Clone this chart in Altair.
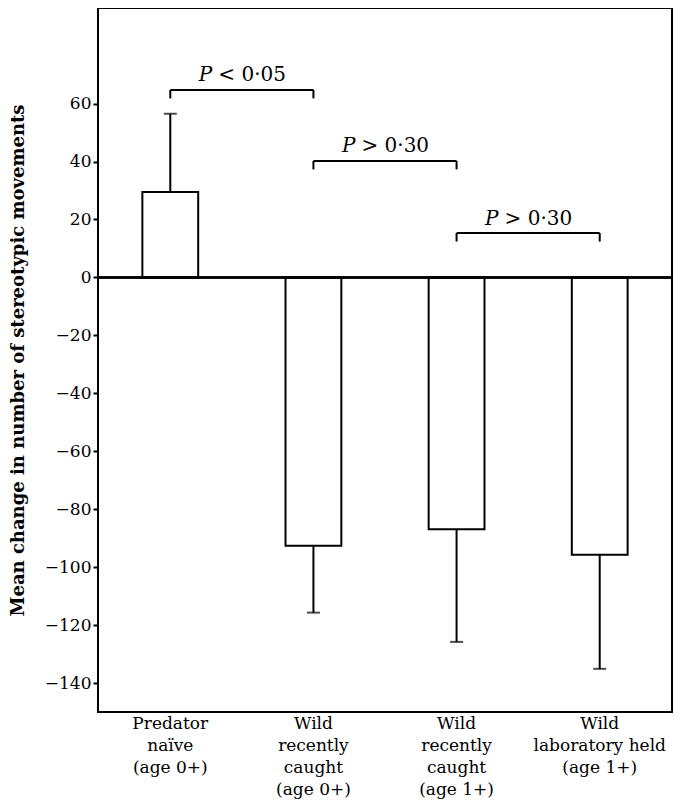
import altair as alt
import pandas as pd

# ---- data ----
categories = ["Predator|naïve|(age 0+)",
              "Wild|recently|caught|(age 0+)",
              "Wild|recently|caught|(age 1+)",
              "Wild|laboratory held|(age 1+)"]
means = [29.5, -92.6, -86.9, -95.7]
err_ends = [56.5, -115.7, -125.8, -135.1]

bracket_left = [categories[0], categories[1], categories[2]]
bracket_right = [categories[1], categories[2], categories[3]]
bracket_level = [64.7, 40.2, 15.3]
bracket_drop = [61.8, 37.3, 12.4]
bracket_rest = ["< 0·05", "> 0·30", "> 0·30"]
label_level = [70.0, 45.2, 20.2]

y_ticks = [60, 40, 20, 0, -20, -40, -60, -80, -100, -120, -140]

FONT = "DejaVu Serif"

bars_df = pd.DataFrame({"cat": categories, "mean": means, "err": err_ends})
br_df = pd.DataFrame({"a": bracket_left, "b": bracket_right,
                      "lvl": bracket_level, "drop": bracket_drop,
                      "rest": bracket_rest, "lab": label_level})

xscale = alt.Scale(domain=categories, paddingInner=0.61, paddingOuter=0.31)
yscale = alt.Scale(domain=[-150, 93], nice=False, zero=False)

x_enc = alt.X("cat:N", scale=xscale, sort=categories,
              axis=alt.Axis(title=None, labelExpr="split(datum.label, '|')",
                            labelAngle=0, labelFont=FONT, labelFontSize=17,
                            labelColor="black", labelLineHeight=22,
                            labelPadding=3, ticks=False, domain=False,
                            labelBaseline="top"))
y_enc = alt.Y("mean:Q", scale=yscale,
              axis=alt.Axis(title="Mean change in number of stereotypic movements",
                            values=y_ticks, grid=False, domain=False,
                            tickColor="black", tickSize=5, tickWidth=2,
                            labelFont=FONT, labelFontSize=17, labelColor="black",
                            labelPadding=2,
                            titleFont=FONT, titleFontSize=18, titleFontWeight="bold",
                            titleColor="black", titleX=-80, titleY=352,
                            titleAngle=270, titleBaseline="middle", titleAlign="center"))

base = alt.Chart(bars_df)

bars = base.mark_bar(fill="white", stroke="black", strokeWidth=2).encode(
    x=x_enc, y=y_enc, y2=alt.datum(0))

stems = base.mark_rule(color="black", strokeWidth=2).encode(
    x=alt.X("cat:N", scale=xscale, sort=categories),
    y=alt.Y("mean:Q", scale=yscale), y2="err:Q")

caps = base.mark_tick(color="black", size=13, thickness=2, orient="horizontal").encode(
    x=alt.X("cat:N", scale=xscale, sort=categories),
    y=alt.Y("err:Q", scale=yscale))

zero = base.mark_rule(color="black", strokeWidth=2).encode(y=alt.datum(0))

bchart = alt.Chart(br_df)
horiz = bchart.mark_rule(color="black", strokeWidth=2).encode(
    x=alt.X("a:N", scale=xscale, sort=categories),
    x2="b:N", y=alt.Y("lvl:Q", scale=yscale))
left_drop = bchart.mark_rule(color="black", strokeWidth=2).encode(
    x=alt.X("a:N", scale=xscale, sort=categories),
    y=alt.Y("lvl:Q", scale=yscale), y2="drop:Q")
right_drop = bchart.mark_rule(color="black", strokeWidth=2).encode(
    x=alt.X("b:N", scale=xscale, sort=categories),
    y=alt.Y("lvl:Q", scale=yscale), y2="drop:Q")

# label placed midway along the bracket (half a band step right of its left end)
p_text = bchart.mark_text(font=FONT, fontSize=20, fontStyle="italic",
                          align="right", baseline="middle", dx=-30 + 72).encode(
    x=alt.X("a:N", scale=xscale, sort=categories),
    y=alt.Y("lab:Q", scale=yscale), text=alt.value("P"))
r_text = bchart.mark_text(font=FONT, fontSize=20, align="left",
                          baseline="middle", dx=-24 + 72).encode(
    x=alt.X("a:N", scale=xscale, sort=categories),
    y=alt.Y("lab:Q", scale=yscale), text="rest:N")

chart = alt.layer(bars, zero, stems, caps, horiz, left_drop, right_drop,
                  p_text, r_text).properties(
    width=574, height=704,
    padding={"left": 90, "top": 0, "right": 2, "bottom": 88},
    autosize=alt.AutoSizeParams(type="none"),
    background="white",
).configure_view(stroke="black", strokeWidth=2)

chart.save("out.html", embed_options={"renderer": "svg", "actions": False})
